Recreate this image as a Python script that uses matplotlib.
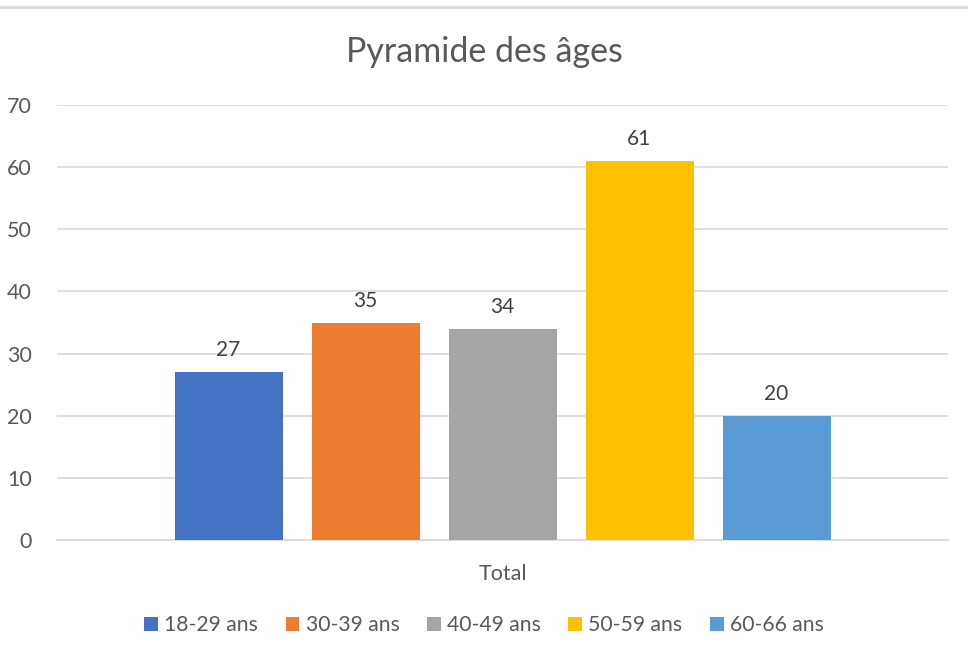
import numpy as np
import matplotlib
matplotlib.use('Agg')
import matplotlib.pyplot as plt
from matplotlib.lines import Line2D

plt.rcParams['font.family'] = ['Lato', 'DejaVu Sans']

categories = ['18-29 ans', '30-39 ans', '40-49 ans', '50-59 ans', '60-66 ans']
values = [27, 35, 34, 61, 20]
colors = ['#4472c4', '#ed7d31', '#a5a5a5', '#ffc000', '#5b9bd5']
group_label = 'Total'
title = 'Pyramide des âges'
yticks = [0, 10, 20, 30, 40, 50, 60, 70]

W, H = 968, 656
fig = plt.figure(figsize=(W / 100, H / 100), dpi=100)
ax = fig.add_axes([57 / W, (H - 540) / H, (948 - 57) / W, (540 - 105) / H])

text_col = '#595959'
step = 137
bar_w = 108 / step
n = len(categories)
pos = np.arange(n) - (n - 1) / 2
for p, v, c, lab in zip(pos, values, colors, categories):
    ax.bar(p, v, width=bar_w, color=c, label=lab, zorder=3)
    ax.text(p, v + 1.9, str(v), ha='center', va='bottom', fontsize=15, color='#404040')

half = (948 - 57) / step / 2
ax.set_xlim(-half, half)
ax.set_ylim(0, 70)
ax.set_yticks(yticks)
ax.yaxis.grid(True, color='#d9d9d9', linewidth=1.2, zorder=0)
ax.set_axisbelow(True)
for s in ['top', 'right', 'left']:
    ax.spines[s].set_visible(False)
ax.spines['bottom'].set_color('#d9d9d9')
ax.spines['bottom'].set_linewidth(1.2)
ax.tick_params(axis='y', length=0, labelsize=15.5, labelcolor=text_col, pad=18)
ax.set_xticks([0])
ax.set_xticklabels([group_label])
ax.tick_params(axis='x', length=0, labelsize=15.5, labelcolor=text_col, pad=17)

fig.text(0.5, (H - 52) / H, title, ha='center', va='center', fontsize=24.5, color=text_col)

fig.add_artist(Line2D([0, 1], [(H - 7) / H, (H - 7) / H], color='#d9d9d9', linewidth=2))

fig.legend(loc='center', bbox_to_anchor=(0.5, (H - 625) / H), ncol=n, frameon=False,
           fontsize=15.2, labelcolor=text_col, handlelength=0.65, handleheight=0.65,
           handletextpad=0.3, columnspacing=1.3)

fig.savefig('out.png', dpi=100, facecolor='white')
